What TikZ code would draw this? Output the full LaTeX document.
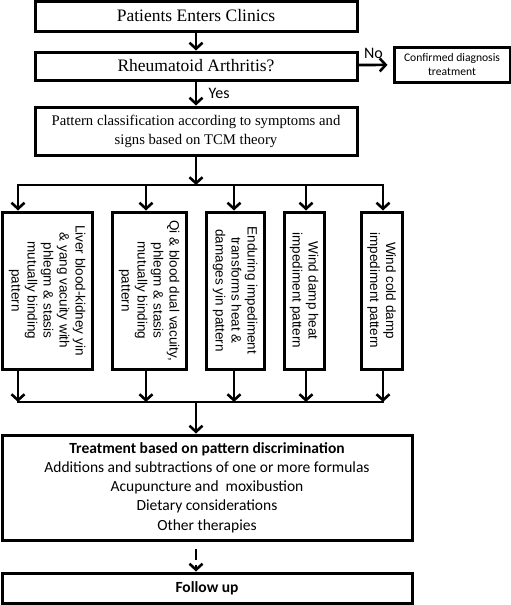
\documentclass[tikz,border=0pt]{standalone}
\usepackage{fontspec}
\setmainfont{Liberation Serif}
\newfontfamily\arialfont{Liberation Sans}
\newfontfamily\calibrifont{Carlito}
\usetikzlibrary{arrows.meta}

\begin{document}
\begin{tikzpicture}[x=1pt, y=-1pt, line width=2.6pt, >={Straight Barb[length=6pt,width=13pt]},
        main node/.style={rectangle,draw,line width=3pt,inner sep=0pt,font=\fontsize{17.5}{21}\selectfont},
        pattern node/.style={main node,align=center,font=\fontsize{14.7}{19}\selectfont},
        side node/.style={main node,align=center,font=\calibrifont\fontsize{11.6}{14}\selectfont},
        vert node/.style={main node,rotate=-90,align=center,minimum width=157pt,font=\arialfont\fontsize{13.5}{16}\selectfont},
        treat node/.style={main node,align=center,minimum width=410pt,font=\calibrifont\fontsize{15.5}{19.2}\selectfont},
        label node/.style={font=\calibrifont\fontsize{16}{18}\selectfont},
        loose dash/.style={dash pattern=on 11pt off 5pt, shorten <=7pt}]
                \useasboundingbox (0,0) rectangle (511,605);

                \node[main node, minimum width=322pt, minimum height=30pt] at (196, 16) (enter) {Patients Enters Clinics};
                \node[main node, minimum width=322pt, minimum height=28pt] at (196, 66) (ra) {Rheumatoid Arthritis?};
                \node[side node, minimum width=116pt, minimum height=35pt] at (452, 64.5) (conf) {Confirmed diagnosis\\treatment};
                \node[pattern node, minimum width=322pt, minimum height=48pt] at (196, 131) (pat) {Pattern classification according to symptoms and\\signs based on TCM theory};

                % rotated boxes: west is the top side, east the bottom side
                \node[vert node, minimum height=90pt] at (47, 290.5) (b1) {Liver blood-kidney yin\\\& yang vacuity with\\phlegm \& stasis\\mutually binding\\pattern};
                \node[vert node, minimum height=74pt] at (149, 290.5) (b2) {Qi \& blood dual vacuity,\\phlegm \& stasis\\mutually binding\\pattern};
                \node[vert node, minimum height=58pt] at (235, 290.5) (b3) {Enduring impediment\\transforms heat \&\\damages yin pattern};
                \node[vert node, minimum height=40pt] at (304, 290.5) (b4) {Wind damp heat\\impediment pattern};
                \node[vert node, minimum height=41pt] at (381.5, 290.5) (b5) {Wind cold damp\\impediment pattern};

                \node[treat node, minimum height=105pt] at (207, 487.5) (treat) {\textbf{Treatment based on pattern discrimination}\\Additions and subtractions of one or more formulas\\Acupuncture and\ \ moxibustion\\Dietary considerations\\Other therapies};
                \node[treat node, minimum height=30pt] at (207, 588) (follow) {\textbf{Follow up}};

                \coordinate (sc) at (196, 185);
                \coordinate (s1) at (18, 185);
                \coordinate (s2) at (146, 185);
                \coordinate (s3) at (234, 185);
                \coordinate (s4) at (306, 185);
                \coordinate (s5) at (383, 185);
                \coordinate (mc) at (196, 402);
                \coordinate (m1) at (18, 402);
                \coordinate (m2) at (146, 402);
                \coordinate (m3) at (234, 402);
                \coordinate (m4) at (306, 402);
                \coordinate (m5) at (383, 402);

            \path[->] (enter) edge[] (ra);
            \path[->] (ra) edge[] node[label node, right, xshift=8pt] {Yes} (pat);
            \path[->, shorten >=5pt] (ra) edge[] node[label node, above, yshift=1.5pt, xshift=-2pt] {No} (conf);
            \path[->] (pat) edge[] (sc);
            \path[-, line cap=rect] (s1) edge[] (s5);
            \foreach \i in {1,...,5}
                \path[->] (s\i) edge[] (s\i |- b\i.west);
            \foreach \i in {1,...,5}
                \path[->] (m\i |- b\i.east) edge[] (m\i);
            \path[-, line cap=rect] (m1) edge[] (m5);
            \path[->] (mc) edge[] (mc |- treat.north);
            \path[->, loose dash] (treat.south -| mc) edge[] (follow.north -| mc);

            \end{tikzpicture}
\end{document}
